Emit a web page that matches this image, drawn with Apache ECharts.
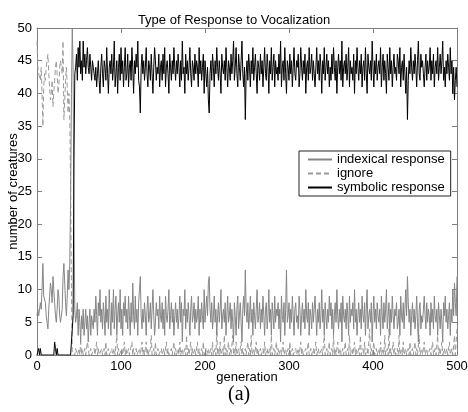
<!DOCTYPE html>
<html>
<head>
<meta charset="utf-8">
<script src="https://cdn.jsdelivr.net/npm/echarts@6/dist/echarts.min.js"></script>
<style>
  html, body { margin: 0; padding: 0; background: #fff; }
  #main { width: 468px; height: 412px; }
</style>
</head>
<body>
<div id="main"></div>
<script>
// generations 0..500, one value per generation
var indexical = [
  6,7,6,7,8,7,10,14,9,9,8,6,5,4,7,9,11,10,8,12,10,8,6,5,7,10,9,6,5,5,7,12,14,11,8,6,9,13,10,14,
  24,40,50,44,20,7,5,
  6,8,3,7,5,2,6,4,7,3,5,7,4,6,2,5,7,3,6,5,
  4,7,5,9,6,3,8,6,10,5,7,4,8,6,3,9,5,7,4,10,
  6,3,8,5,10,4,7,9,3,6,8,5,10,4,7,3,8,6,9,5,
  7,4,9,6,3,8,5,11,6,4,9,5,7,3,8,10,12,6,4,7,
  5,8,6,3,7,9,5,6,8,4,7,10,6,3,5,8,6,7,4,9,
  6,5,8,4,7,3,9,6,5,7,10,4,6,8,5,7,3,6,8,5,
  7,4,6,9,5,8,2,7,6,10,4,7,5,8,6,3,7,9,5,6,
  8,4,7,5,6,9,3,7,5,8,6,4,10,5,7,9,6,11,12,7,
  5,8,4,6,9,5,7,3,6,8,5,7,10,4,6,7,5,8,3,6,
  9,5,6,8,4,7,5,2,8,6,3,7,9,4,6,8,5,2,7,9,
  6,13,7,5,8,4,6,9,5,7,3,8,6,4,7,10,5,6,8,4,
  7,5,9,6,3,7,8,4,6,10,5,7,3,8,6,4,9,5,7,6,
  8,4,7,2,9,6,5,8,3,7,13,5,6,8,4,7,5,9,6,3,
  7,8,5,6,4,9,7,3,6,8,5,7,4,10,6,5,8,3,7,6,
  4,8,5,7,9,6,3,7,5,8,4,6,10,5,7,3,8,6,4,7,
  5,9,6,8,4,7,3,6,8,5,10,6,4,7,5,8,2,9,6,5,
  7,4,8,6,3,9,5,7,6,8,4,10,5,7,3,6,8,5,7,4,
  9,6,5,8,3,7,10,4,6,7,5,8,2,6,9,5,7,4,8,6,
  5,7,3,9,6,4,8,5,7,10,4,6,8,3,7,5,9,6,4,7,
  6,8,4,5,7,3,9,6,5,8,4,7,10,6,12,8,5,7,3,6,
  8,5,7,4,6,9,5,2,7,8,4,6,5,7,9,6,4,8,5,7,
  6,3,8,5,7,4,9,6,5,7,3,8,6,4,7,5,2,8,6,9,
  5,7,4,6,8,3,7,5,10,6,11,8,6,12
];

var ignore = [
  48,44,43,43,42,44,40,35,41,43,42,44,45,46,43,41,39,40,42,38,40,42,44,45,43,40,41,44,45,45,43,48,36,39,42,44,41,37,40,36,
  26,10,0,0,0,0,1,
  1,0,0,1,0,2,0,1,0,0,1,0,0,2,1,0,0,1,0,0,
  0,1,0,0,2,0,1,0,0,0,1,0,0,1,0,2,0,0,1,0,
  0,0,1,0,0,1,0,0,3,0,1,0,0,0,1,0,0,2,0,1,
  0,0,1,0,0,0,2,0,1,0,0,1,0,0,0,1,0,0,2,0,
  1,0,0,2,0,1,0,0,1,3,0,0,1,0,2,0,0,1,0,0,
  0,1,0,0,1,0,0,2,0,1,0,0,0,1,0,0,2,0,1,0,
  0,1,0,2,0,0,1,0,0,1,0,3,0,1,0,0,2,0,1,0,
  0,1,0,0,2,0,1,0,0,1,0,2,0,0,1,0,0,1,0,0,
  1,0,2,0,0,1,0,4,0,1,0,2,0,0,1,0,3,0,1,0,
  0,2,0,1,0,0,3,0,1,0,2,0,0,1,0,0,2,0,1,0,
  0,1,0,0,2,0,1,0,3,0,0,1,0,0,2,0,1,0,0,1,
  0,0,1,0,2,0,0,1,0,0,1,0,3,0,0,1,0,0,2,0,
  1,0,0,1,0,0,2,0,0,1,0,0,1,0,2,0,0,1,0,0,
  0,1,0,0,1,0,0,2,0,1,0,0,0,1,0,0,2,0,0,1,
  0,0,1,0,0,2,0,0,1,0,0,0,1,0,0,3,0,0,1,0,
  0,2,0,0,1,0,3,0,1,0,0,2,0,0,1,0,0,1,0,0,
  2,0,0,1,0,3,0,0,1,0,0,2,0,1,0,0,1,0,3,0,
  0,1,0,2,0,0,1,0,0,4,0,1,0,0,2,0,0,1,0,0,
  1,0,2,0,0,1,0,3,0,0,1,0,4,0,1,0,0,2,0,1,
  0,0,1,0,3,0,0,1,0,2,0,0,1,0,0,1,0,2,0,0,
  1,0,0,2,0,1,0,0,3,0,0,1,0,0,2,0,0,1,0,0,
  0,1,0,0,2,0,0,1,0,0,3,0,1,0,0,2,0,0,1,0,
  0,1,0,0,2,0,0,1,0,0,3,0,0,4
];

var symbolic = [
  0,0,1,0,1,0,0,0,0,0,0,0,0,0,0,0,0,0,0,0,0,2,1,0,1,0,0,0,0,0,0,0,0,0,0,0,0,0,0,0,
  0,0,0,6,30,43,44,
  46,42,47,44,48,43,45,42,48,44,46,43,45,47,44,43,46,44,42,45,
  44,43,42,44,41,43,45,42,40,44,46,43,41,45,44,42,47,43,40,44,
  45,43,46,42,44,48,41,43,45,40,44,46,42,47,43,45,41,44,47,42,
  43,46,41,44,45,42,47,44,40,45,43,46,44,48,42,41,37,44,46,43,
  45,42,44,47,43,41,45,44,42,46,43,40,44,47,45,42,44,43,46,41,
  44,45,42,46,43,47,41,44,45,43,40,46,44,42,45,43,47,44,42,45,
  43,46,44,41,45,42,48,43,44,40,46,43,45,42,44,47,43,41,45,44,
  42,46,43,45,44,41,47,43,45,42,44,46,40,45,43,41,44,39,37,43,
  45,42,46,44,41,45,43,47,44,42,45,43,40,46,44,43,45,42,47,44,
  41,45,44,42,46,43,45,48,42,44,47,43,41,46,44,42,45,48,43,41,
  44,36,43,45,42,46,44,41,45,43,47,42,44,46,43,40,45,44,42,46,
  43,45,41,44,47,43,42,46,44,40,45,43,47,42,44,46,41,45,43,44,
  42,46,43,48,41,44,45,42,47,43,40,45,44,42,46,43,45,41,44,47,
  43,42,45,44,46,41,43,47,44,42,45,43,46,40,44,45,42,47,43,44,
  46,42,45,43,41,44,47,43,45,42,46,44,40,45,43,47,42,44,46,43,
  45,41,44,42,46,43,47,44,42,45,40,44,46,43,45,42,48,41,44,45,
  43,46,42,44,47,41,45,43,44,42,46,40,45,43,47,44,42,45,43,46,
  41,44,45,42,47,43,40,46,44,43,45,42,48,44,41,45,43,46,42,44,
  45,43,47,41,44,46,42,45,43,40,46,44,42,47,43,45,41,44,46,43,
  44,42,46,45,43,47,41,44,45,42,46,43,40,44,36,42,45,43,47,44,
  42,45,43,46,44,41,45,48,43,42,46,44,45,43,41,44,46,42,45,43,
  44,47,42,45,43,46,41,44,45,43,47,42,44,46,43,45,48,42,44,41,
  45,43,46,44,42,47,43,45,40,44,39,42,44,41
];

var xTicks = [0, 100, 200, 300, 400, 500];
var yTicks = [0, 5, 10, 15, 20, 25, 30, 35, 40, 45, 50];

function toPoints(arr) {
  return arr.map(function (v, i) { return [i, v]; });
}

var axisGray = '#808080';
var font = 'Liberation Sans, Arial, sans-serif';

function boxAxis(pos, isX, showLabel) {
  var ticks = isX ? xTicks : yTicks;
  return {
    type: 'value',
    position: pos,
    min: ticks[0],
    max: ticks[ticks.length - 1],
    interval: ticks[1] - ticks[0],
    axisLine: { show: true, onZero: false, lineStyle: { color: axisGray, width: 1 } },
    axisTick: { show: true, inside: true, length: 5, lineStyle: { color: axisGray } },
    axisLabel: { show: showLabel, color: '#000', fontSize: 13, fontFamily: font, margin: 5 },
    splitLine: { show: false }
  };
}

var xBottom = boxAxis('bottom', true, true);
xBottom.name = 'generation';
xBottom.nameLocation = 'middle';
xBottom.nameGap = 16;
xBottom.nameMoveOverlap = false;
xBottom.nameTextStyle = { color: '#000', fontSize: 13, fontFamily: font };

var yLeft = boxAxis('left', false, true);
yLeft.name = 'number of creatures';
yLeft.nameLocation = 'middle';
yLeft.nameGap = 17;
yLeft.nameMoveOverlap = false;
yLeft.nameTextStyle = { color: '#000', fontSize: 13, fontFamily: font };

var chart = echarts.init(document.getElementById('main'), null, { renderer: 'canvas' });

var option = {
  backgroundColor: '#ffffff',
  animation: false,
  title: {
    text: 'Type of Response to Vocalization',
    left: 'center',
    top: 9,
    textStyle: { color: '#000', fontSize: 13, fontWeight: 'normal', fontFamily: font }
  },
  grid: { left: 37, right: 11, top: 28, bottom: 57, containLabel: false, outerBoundsMode: 'none' },
  xAxis: [xBottom, boxAxis('top', true, false)],
  yAxis: [yLeft, boxAxis('right', false, false)],
  legend: {
    orient: 'vertical',
    left: 299,
    top: 151,
    backgroundColor: '#fff',
    borderColor: '#222',
    borderWidth: 1,
    borderRadius: 0,
    padding: [2, 6, 2, 8],
    itemGap: 1,
    itemWidth: 24,
    itemHeight: 12,
    itemStyle: { opacity: 0 },
    textStyle: { color: '#000', fontSize: 13, fontFamily: font },
    data: ['indexical response', 'ignore', 'symbolic response']
  },
  graphic: [{
    type: 'text',
    left: 228,
    top: 385,
    style: { text: '(a)', fill: '#000', font: '20px "Liberation Serif", serif' }
  }],
  series: [
    {
      name: 'ignore',
      type: 'line',
      data: toPoints(ignore),
      symbol: 'none',
      lineStyle: { color: '#9a9a9a', width: 1, type: [5, 3] },
      itemStyle: { color: '#9a9a9a' }
    },
    {
      name: 'indexical response',
      type: 'line',
      data: toPoints(indexical),
      symbol: 'none',
      lineStyle: { color: '#858585', width: 1 },
      itemStyle: { color: '#858585' }
    },
    {
      name: 'symbolic response',
      type: 'line',
      data: toPoints(symbolic),
      symbol: 'none',
      lineStyle: { color: '#000', width: 1 },
      itemStyle: { color: '#000' }
    }
  ]
};

chart.setOption(option);
</script>
</body>
</html>
